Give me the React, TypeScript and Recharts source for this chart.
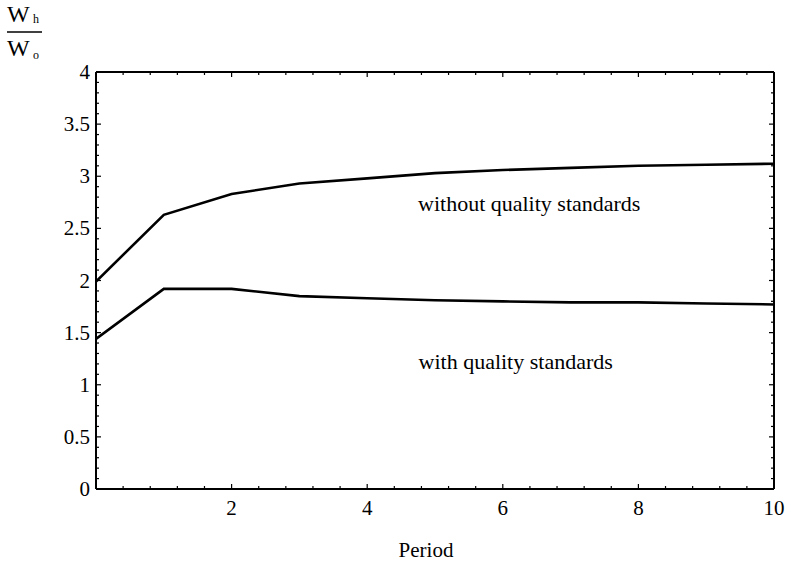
import React from 'react';
import { LineChart, Line, XAxis, YAxis, ReferenceDot, Label } from 'recharts';

const periods = [0, 1, 2, 3, 4, 5, 6, 7, 8, 9, 10];
const withoutStandards = [1.99, 2.63, 2.83, 2.93, 2.98, 3.03, 3.06, 3.08, 3.1, 3.11, 3.12];
const withStandards = [1.44, 1.92, 1.92, 1.85, 1.83, 1.81, 1.8, 1.79, 1.79, 1.78, 1.77];

const xTicks = Array.from({ length: 26 }, (_, i) => Math.round(i * 4) / 10);
const xLabelTicks = [2, 4, 6, 8, 10];
const yTicks = Array.from({ length: 41 }, (_, i) => i / 10);
const yLabelTicks = [0, 0.5, 1, 1.5, 2, 2.5, 3, 3.5, 4];

const data = periods.map((p, i) => ({
  period: p,
  without: withoutStandards[i],
  with: withStandards[i],
}));

const FONT = 'Liberation Serif, Times New Roman, serif';
const frame = { stroke: '#000', strokeWidth: 2 };

const isMajorX = (v: number) => Math.abs(v / 2 - Math.round(v / 2)) < 1e-6;
const isMajorY = (v: number) => Math.abs(v * 2 - Math.round(v * 2)) < 1e-6;
const hasLabel = (arr: number[], v: number) => arr.some((a) => Math.abs(a - v) < 1e-6);

function makeTick(side: 'bottom' | 'top' | 'left' | 'right') {
  return (props: any) => {
    const { x, y, payload } = props;
    const v: number = payload.value;
    const major = side === 'bottom' || side === 'top' ? isMajorX(v) : isMajorY(v);
    const len = major ? 5 : 3;
    let line;
    if (side === 'bottom') line = <line x1={x} y1={y} x2={x} y2={y - len} stroke="#000" strokeWidth={1.2} />;
    else if (side === 'top') line = <line x1={x} y1={y} x2={x} y2={y + len} stroke="#000" strokeWidth={1.2} />;
    else if (side === 'left') line = <line x1={x} y1={y} x2={x + len} y2={y} stroke="#000" strokeWidth={1.2} />;
    else line = <line x1={x} y1={y} x2={x - len} y2={y} stroke="#000" strokeWidth={1.2} />;
    let label = null;
    if (side === 'bottom' && hasLabel(xLabelTicks, v)) {
      label = (
        <text x={x} y={y + 26} textAnchor="middle" style={{ fontSize: 21, fontFamily: FONT }} fill="#000">
          {String(v)}
        </text>
      );
    }
    if (side === 'left' && hasLabel(yLabelTicks, v)) {
      label = (
        <text x={x - 6} y={y + 7} textAnchor="end" style={{ fontSize: 21, fontFamily: FONT }} fill="#000">
          {String(v)}
        </text>
      );
    }
    return (
      <g>
        {line}
        {label}
      </g>
    );
  };
}

export default function App() {
  return (
    <div style={{ position: 'absolute', left: 0, top: 0, width: 794, height: 565, background: '#fff', fontFamily: FONT }}>
      <LineChart
        width={794}
        height={565}
        data={data}
        margin={{ top: 71, right: 19, bottom: 75, left: 95 }}
        style={{ fontFamily: FONT }}
      >
        <XAxis xAxisId="top" dataKey="period" type="number" domain={[0, 10]} allowDataOverflow
          orientation="top" height={1} ticks={xTicks} tick={makeTick('top')} tickSize={0} tickMargin={0}
          axisLine={frame} tickLine={false} interval={0} />
        <YAxis yAxisId="right" type="number" domain={[0, 4]} allowDataOverflow
          orientation="right" width={1} ticks={yTicks} tick={makeTick('right')} tickSize={0} tickMargin={0}
          axisLine={frame} tickLine={false} interval={0} />
        <XAxis xAxisId="x" dataKey="period" type="number" domain={[0, 10]} allowDataOverflow
          orientation="bottom" height={1} ticks={xTicks} tick={makeTick('bottom')} tickSize={0} tickMargin={0}
          axisLine={frame} tickLine={false} interval={0}>
          <Label value="Period" position="bottom" offset={52} dx={-9}
            fontSize={21} fontFamily={FONT} fill="#000" />
        </XAxis>
        <YAxis yAxisId="y" type="number" domain={[0, 4]} allowDataOverflow
          orientation="left" width={1} ticks={yTicks} tick={makeTick('left')} tickSize={0} tickMargin={0}
          axisLine={frame} tickLine={false} interval={0} />

        <Line xAxisId="x" yAxisId="y" type="linear" dataKey="without" stroke="#000"
          strokeWidth={2.6} dot={false} isAnimationActive={false} />
        <Line xAxisId="x" yAxisId="y" type="linear" dataKey="with" stroke="#000"
          strokeWidth={2.6} dot={false} isAnimationActive={false} />

        <ReferenceDot xAxisId="x" yAxisId="y" x={6.39} y={2.74} r={0} fill="none" stroke="none">
          <Label value="without quality standards" position="center"
            fontSize={22} fontFamily={FONT} fill="#000" />
        </ReferenceDot>
        <ReferenceDot xAxisId="x" yAxisId="y" x={6.19} y={1.23} r={0} fill="none" stroke="none">
          <Label value="with quality standards" position="center"
            fontSize={22} fontFamily={FONT} fill="#000" />
        </ReferenceDot>
      </LineChart>
      <svg width={60} height={70} style={{ position: 'absolute', left: 0, top: 0, fontFamily: FONT }}>
        <text x={7} y={22} style={{ fontSize: 24 }} fill="#000">W</text>
        <text x={33} y={23} style={{ fontSize: 12 }} fill="#000">h</text>
        <line x1={7} y1={32} x2={42} y2={32} stroke="#000" strokeWidth={1.6} />
        <text x={7} y={56} style={{ fontSize: 24 }} fill="#000">W</text>
        <text x={33} y={59} style={{ fontSize: 12 }} fill="#000">o</text>
      </svg>
    </div>
  );
}
